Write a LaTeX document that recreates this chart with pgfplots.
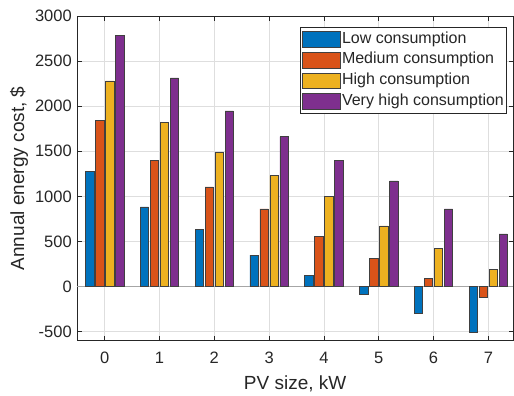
\documentclass[border=0pt]{standalone}
\usepackage{fontspec}
\setmainfont{Liberation Sans}
\usepackage{pgfplots}
\pgfplotsset{compat=1.18}
\definecolor{cA}{rgb}{0,0.447,0.741}
\definecolor{cB}{rgb}{0.85,0.325,0.098}
\definecolor{cC}{rgb}{0.929,0.694,0.125}
\definecolor{cD}{rgb}{0.494,0.184,0.556}
\definecolor{axc}{rgb}{0.15,0.15,0.15}
\begin{document}
\begin{tikzpicture}
\begin{axis}[
  scale only axis, width=435.7pt, height=324.7pt,
  xmin=-0.5, xmax=7.45, ymin=-600, ymax=3000,
  xtick={0,1,2,3,4,5,6,7},
  ytick={-500,0,500,1000,1500,2000,2500,3000},
  scaled y ticks=false,
  /pgf/number format/1000 sep={},
  /pgf/number format/assume math mode=true,
  ybar=1.7pt, bar width=8.3pt,
  axis line style={axc, line width=0.6pt},
  tick style={axc, line width=0.6pt},
  major tick length=4.5pt,
  tick align=inside,
  grid=major,
  major grid style={black!13, line width=0.6pt},
  ticklabel style={font=\fontsize{16.5}{18}\selectfont, text=axc},
  xticklabel style={yshift=-8pt},
  yticklabel style={xshift=-2pt},
  extra y ticks={0},
  extra y tick labels={},
  extra y tick style={grid=major, major grid style={black!35, line width=1.1pt}, major tick length=0pt},
  xlabel={PV size, kW},
  ylabel={Annual energy cost, \$},
  label style={font=\fontsize{19}{21}\selectfont, text=axc},
  xlabel style={at={(axis description cs:0.5,-0.1488)}, anchor=base},
  ylabel style={at={(axis description cs:-0.1223,0.5)}, anchor=base},
  every axis plot/.append style={draw=black!75, line width=0.6pt},
  legend image code/.code={\draw[#1] (0pt,-8pt) rectangle (38.4pt,7.7pt);},
  legend cell align=left,
  legend style={at={(0.9855,0.965)}, anchor=north east,
    font=\fontsize{16}{17}\selectfont, text=axc,
    draw=axc, line width=0.6pt,
    inner xsep=1pt, inner ysep=1pt, row sep=0pt,
    nodes={inner xsep=1.5pt, inner ysep=2.4pt, text height=12pt, text depth=4pt}},
]
\addplot[fill=cA] coordinates {(0,1279) (1,883) (2,634) (3,349) (4,122) (5,-85) (6,-300) (7,-512)};
\addplot[fill=cB] coordinates {(0,1840) (1,1398) (2,1106) (3,861) (4,553) (5,316) (6,89) (7,-122)};
\addplot[fill=cC] coordinates {(0,2280) (1,1824) (2,1491) (3,1231) (4,1001) (5,672) (6,427) (7,194)};
\addplot[fill=cD] coordinates {(0,2781) (1,2314) (2,1947) (3,1662) (4,1402) (5,1172) (6,861) (7,583)};
\legend{Low consumption, Medium consumption, High consumption, Very high consumption}
\end{axis}
\pgfresetboundingbox
\path ([shift={(-77.3pt,-55.3pt)}]current axis.south west) rectangle ([shift={(1pt,16pt)}]current axis.north east);
\end{tikzpicture}
\end{document}
